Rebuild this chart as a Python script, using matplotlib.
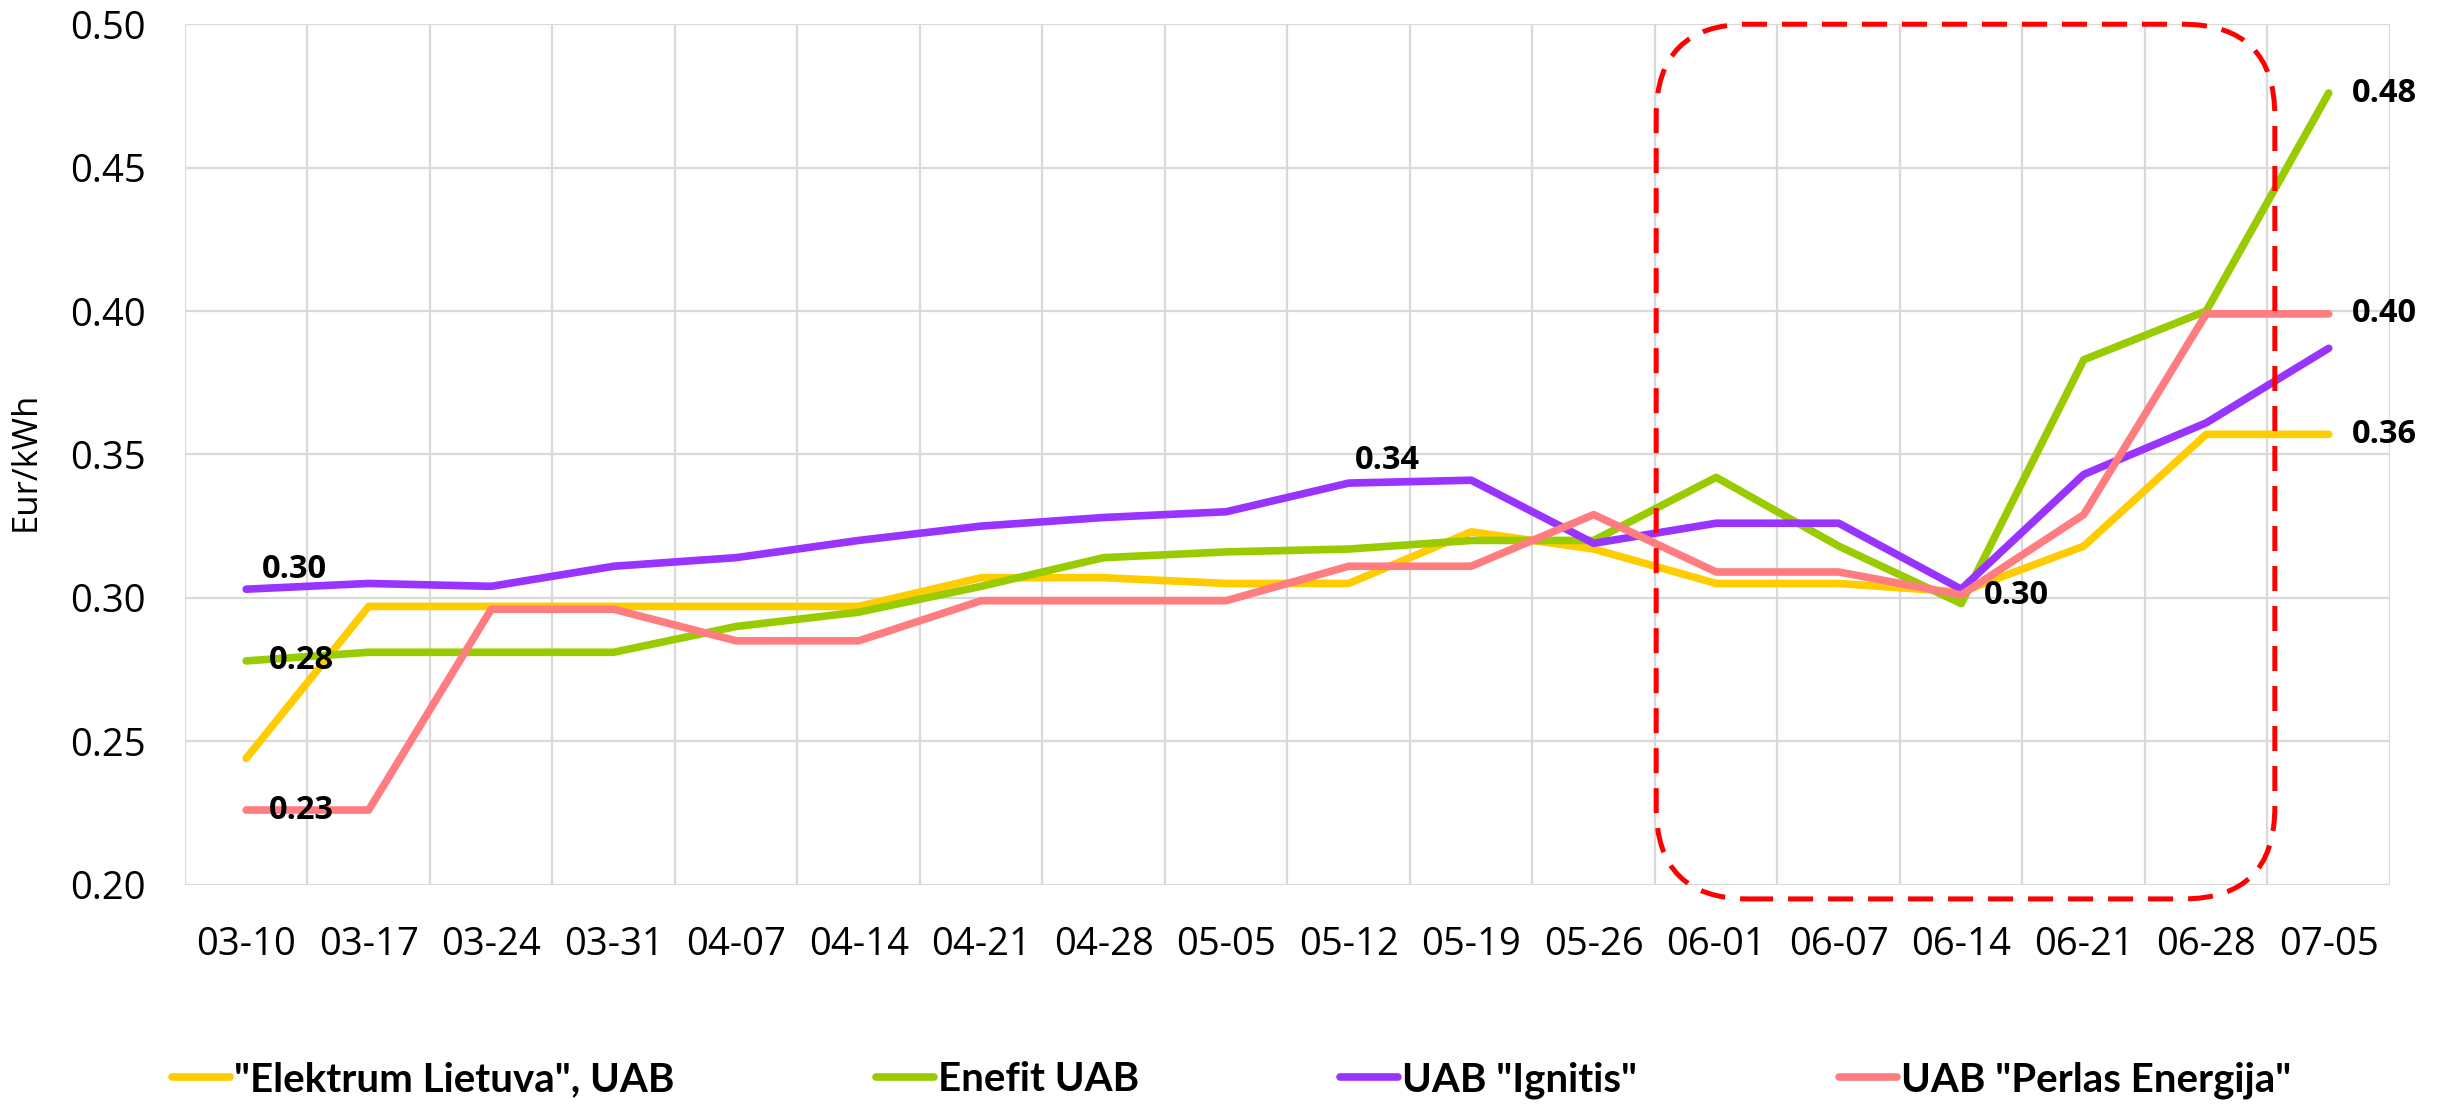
import matplotlib
matplotlib.use("Agg")
import matplotlib.pyplot as plt
from matplotlib.patches import FancyBboxPatch

# weekly prices, Eur/kWh
dates = ["03-10", "03-17", "03-24", "03-31", "04-07", "04-14", "04-21", "04-28", "05-05",
         "05-12", "05-19", "05-26", "06-01", "06-07", "06-14", "06-21", "06-28", "07-05"]

elektrum = [0.244, 0.297, 0.297, 0.297, 0.297, 0.297, 0.307, 0.307, 0.305,
            0.305, 0.323, 0.317, 0.305, 0.305, 0.302, 0.318, 0.357, 0.357]
enefit = [0.278, 0.281, 0.281, 0.281, 0.290, 0.295, 0.304, 0.314, 0.316,
          0.317, 0.320, 0.320, 0.342, 0.318, 0.298, 0.383, 0.400, 0.476]
ignitis = [0.303, 0.305, 0.304, 0.311, 0.314, 0.320, 0.325, 0.328, 0.330,
           0.340, 0.341, 0.319, 0.326, 0.326, 0.303, 0.343, 0.361, 0.387]
perlas = [0.226, 0.226, 0.296, 0.296, 0.285, 0.285, 0.299, 0.299, 0.299,
          0.311, 0.311, 0.329, 0.309, 0.309, 0.301, 0.329, 0.399, 0.399]

names = ['"Elektrum Lietuva", UAB', 'Enefit UAB', 'UAB "Ignitis"', 'UAB "Perlas Energija"']
colors = ["#FFCC00", "#99CC00", "#9933FF", "#FF7C80"]
series = [elektrum, enefit, ignitis, perlas]

# (series index, point index, dx pt, dy pt)
point_labels = [
    (2, 0, 35, 14),
    (1, 0, 40, 0),
    (3, 0, 40, 0),
    (2, 9, 28, 16),
    (1, 14, 40, 6),
    (1, 17, 40, 0),
    (3, 17, 40, 0),
    (0, 17, 40, 0),
]

fig = plt.figure(figsize=(24.43, 11.11), dpi=100)
ax = fig.add_axes([0.0757, 0.2038, 0.9026, 0.7744])

x = list(range(len(dates)))
handles = []
for vals, c, name in zip(series, colors, names):
    ln, = ax.plot(x, vals, color=c, lw=5.5, solid_capstyle="round",
                  solid_joinstyle="round", label=name, zorder=3)
    handles.append(ln)

for si, pi, dx, dy in point_labels:
    v = series[si][pi]
    ax.annotate(f"{v:.2f}", (pi, v), xytext=(dx, dy), textcoords="offset points",
                ha="center", va="center", fontsize=23.5, fontweight="bold",
                family="Open Sans", zorder=4)

ax.set_xlim(-0.5, len(dates) - 0.5)
ax.set_ylim(0.20, 0.50)
ax.set_yticks([0.20, 0.25, 0.30, 0.35, 0.40, 0.45, 0.50])
ax.set_yticklabels([f"{t:.2f}" for t in ax.get_yticks()])
ax.set_xticks(x)
ax.set_xticklabels(dates)
ax.set_xticks([i - 0.5 for i in range(len(dates) + 1)], minor=True)
for lab in ax.get_xticklabels() + ax.get_yticklabels():
    lab.set_family("Open Sans")
    lab.set_fontsize(27.5)
ax.tick_params(axis="both", which="both", length=0)
ax.tick_params(axis="x", pad=30)
ax.tick_params(axis="y", pad=28)
ax.grid(True, axis="y", which="major", color="#D9D9D9", lw=1.6, zorder=0)
ax.grid(True, axis="x", which="minor", color="#D9D9D9", lw=1.6, zorder=0)
for s in ax.spines.values():
    s.set_visible(False)

ax.set_ylabel("Eur/kWh", fontsize=25, family="Open Sans")
ax.yaxis.set_label_coords(-0.0644, 0.4916)

# red dashed rounded frame around June
box = FancyBboxPatch((11.51, 0.195), 16.56 - 11.51, 0.50 - 0.195,
                     boxstyle="round,pad=0,rounding_size=0.75", mutation_aspect=0.0427,
                     fill=False, edgecolor="#FF0000", lw=3.6, linestyle=(0, (5, 3)),
                     clip_on=False, zorder=5)
ax.add_patch(box)

fig.legend(handles=handles, loc="center", bbox_to_anchor=(0.504, 0.028), ncol=4,
           frameon=False, handlelength=1.44, handletextpad=0.1, columnspacing=5.0,
           prop={"family": ["Lato", "DejaVu Sans"], "weight": "bold", "size": 29})

fig.savefig("out.png", dpi=100)
